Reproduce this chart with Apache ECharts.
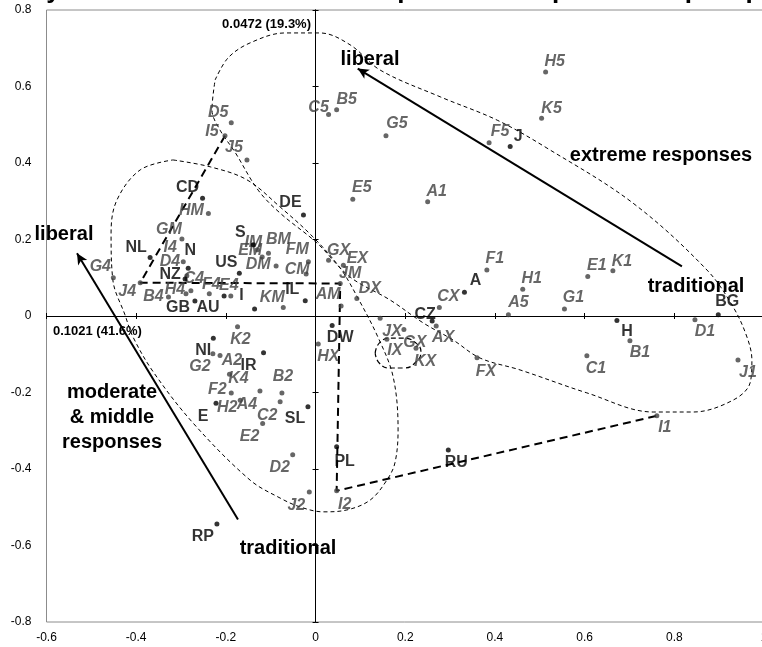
<!DOCTYPE html>
<html><head><meta charset="utf-8">
<script src="https://cdn.jsdelivr.net/npm/echarts@6/dist/echarts.min.js"></script>
<style>html,body{margin:0;padding:0;background:#fff}#c{width:762px;height:647px}</style>
</head><body><div id="c"></div>
<script>
// ---- data ----
const countryNames = ['CD','NL','N','NZ','GB','AU','I','US','S','DE','IL','DW','CZ','A','J','H','BG','NI','IR','E','SL','PL','RU','RP'];
const countryX = [-0.252,-0.369,-0.284,-0.291,-0.269,-0.204,-0.136,-0.170,-0.139,-0.027,-0.023,0.037,0.260,0.332,0.434,0.672,0.898,-0.228,-0.116,-0.222,-0.017,0.047,0.296,-0.220];
const countryY = [0.308,0.153,0.125,0.097,0.039,0.052,0.018,0.112,0.186,0.264,0.040,-0.025,-0.013,0.062,0.443,-0.012,0.003,-0.058,-0.096,-0.228,-0.237,-0.342,-0.350,-0.544];

const itemNames = ['D5','I5','J5','C5','B5','G5','E5','H5','K5','F5','A1','F1','H1','A5','G1','E1','K1','D1','B1','C1','J1','I1','CX','AX','FX','JX','IX','GX','KX','GX','EX','JM','DX','AM','HX','KM','FM','CM','DM','BM','EM','IM','HM','GM','I4','D4','C4','H4','B4','J4','G4','F4','E4','K2','G2','A2','K4','F2','H2','A4','B2','C2','E2','D2','J2','I2'];
const itemX = [-0.188,-0.202,-0.153,0.029,0.047,0.157,0.083,0.513,0.504,0.387,0.250,0.382,0.462,0.430,0.555,0.607,0.663,0.846,0.701,0.605,0.942,0.761,0.276,0.269,0.360,0.144,0.159,0.197,0.224,0.029,0.062,0.055,0.092,0.057,0.006,-0.072,-0.016,-0.021,-0.088,-0.105,-0.119,-0.130,-0.239,-0.298,-0.295,-0.287,-0.278,-0.289,-0.328,-0.391,-0.451,-0.237,-0.189,-0.174,-0.229,-0.213,-0.192,-0.188,-0.168,-0.124,-0.075,-0.079,-0.118,-0.051,-0.014,0.047];
const itemY = [0.505,0.471,0.408,0.527,0.539,0.471,0.305,0.638,0.517,0.453,0.299,0.120,0.070,0.003,0.018,0.103,0.118,-0.010,-0.065,-0.104,-0.115,-0.261,0.022,-0.026,-0.109,-0.006,-0.061,-0.035,-0.084,0.146,0.133,0.085,0.046,0.026,-0.073,0.022,0.142,0.110,0.131,0.164,0.154,0.173,0.268,0.201,0.142,0.105,0.066,0.058,0.050,0.087,0.100,0.058,0.052,-0.028,-0.099,-0.103,-0.152,-0.201,-0.220,-0.196,-0.201,-0.224,-0.281,-0.363,-0.460,-0.457];

// label placement (pixels, relative to the point)
const countryLabelDx = [-15,-14,2,-15,-17,-16,-13,-13,-13,-13,-13,8,-7,11,8,10,9,-10,-15,-13,-13,8,8,-14];
const countryLabelDy = [-11,-10,-18,-4,7,11,-14,-11,-12,-12,-11,12,-6,-12,-10,11,-13,12,13,13,12,15,13,13];
const itemLabelDx = [-13,-13,-13,-10,10,11,9,9,10,11,9,8,9,10,9,9,9,10,10,9,10,8,9,7,9,12,8,11,9,10,14,10,13,-13,10,-11,-11,-9,-18,10,-12,-4,-17,-13,-13,-17,3,-11,-15,-13,-13,2,-2,3,-13,12,9,-14,-13,-13,1,-13,-13,-13,-13,8];
const itemLabelDy = [-10,-4,-12,-7,-10,-12,-12,-10,-10,-11,-10,-12,-11,-12,-12,-11,-9,12,12,13,13,12,-11,12,14,13,11,13,13,-10,-7,-10,-10,-11,13,-10,-12,-4,-1,-14,-7,-7,-3,-10,-14,-14,-12,-4,0,9,-11,-9,-11,13,13,5,4,-3,7,14,-16,14,13,13,14,14];

// trajectory drawn with the thick dashed line
const trajectoryNames = ['I5','J4','JM','I2','I1'];

// enclosing curves
const extremeHull = [[-0.224,0.617],[-0.195,0.675],[-0.146,0.714],[-0.068,0.740],[0.010,0.740],[0.077,0.709],[0.144,0.643],[0.278,0.573],[0.405,0.512],[0.516,0.439],[0.708,0.295],[0.873,0.120],[0.931,0.024],[0.962,-0.055],[0.973,-0.115],[0.969,-0.175],[0.931,-0.220],[0.842,-0.251],[0.753,-0.251],[0.605,-0.201],[0.456,-0.141],[0.367,-0.110],[0.307,-0.063],[0.240,-0.018],[0.166,0.042],[0.077,0.102],[0.003,0.191],[-0.079,0.269],[-0.128,0.329],[-0.180,0.429],[-0.213,0.486],[-0.231,0.539],[-0.224,0.617]];
const moderateHull = [[-0.318,0.408],[-0.235,0.390],[-0.153,0.356],[-0.079,0.285],[-0.006,0.207],[0.055,0.125],[0.093,0.050],[0.139,-0.055],[0.173,-0.159],[0.184,-0.298],[0.177,-0.384],[0.159,-0.429],[0.122,-0.481],[0.070,-0.507],[0.017,-0.512],[-0.035,-0.499],[-0.079,-0.476],[-0.146,-0.429],[-0.273,-0.280],[-0.362,-0.146],[-0.407,-0.055],[-0.425,0.003],[-0.452,0.094],[-0.456,0.217],[-0.443,0.303],[-0.391,0.382],[-0.318,0.408]];
const dkLoop = [[0.133,-0.097],[0.142,-0.071],[0.166,-0.058],[0.197,-0.058],[0.224,-0.071],[0.235,-0.094],[0.224,-0.120],[0.197,-0.136],[0.166,-0.136],[0.142,-0.123],[0.133,-0.097]];

// arrows (tail -> head)
const arrowExtreme = [[0.817,0.130],[0.094,0.647]];
const arrowModerate = [[-0.173,-0.532],[-0.532,0.164]];

const xMin=-0.6, xMax=1.0, xStep=0.2;
const yMin=-0.8, yMax=0.8, yStep=0.2;

// ---- chart ----
const FONT = '"Liberation Sans", Arial, sans-serif';
const chart = echarts.init(document.getElementById('c'), null, {renderer:'canvas'});

const countryData = countryNames.map((n,i)=>({name:n, value:[countryX[i],countryY[i]], label:{offset:[countryLabelDx[i],countryLabelDy[i]]}}));
const itemData = itemNames.map((n,i)=>({name:n, value:[itemX[i],itemY[i]], label:{offset:[itemLabelDx[i],itemLabelDy[i]]}}));
const traj = trajectoryNames.map(n=>{const i=itemNames.indexOf(n); return [itemX[i],itemY[i]];});

function valAxis(min,max,step,extra){
  return Object.assign({type:'value',min:min,max:max,interval:step,splitLine:{show:false},
    axisTick:{show:false},axisLine:{show:false},axisLabel:{show:false}},extra);
}
const zeroLine = {show:true,onZero:true,onZeroAxisIndex:0,lineStyle:{color:'#000',width:1}};

const option = {
  animation:false,
  backgroundColor:'#fff',
  grid:{left:46.5,right:-2,top:10,bottom:25,show:true,borderColor:'#8c8c8c',borderWidth:1,containLabel:false,outerBoundsMode:'none'},
  xAxis:[
    valAxis(xMin,xMax,xStep,{position:'bottom',axisLabel:{show:true,color:'#000',fontSize:12,fontFamily:FONT,margin:10}}),
    valAxis(xMin,xMax,xStep,{position:'bottom',axisLine:zeroLine,axisTick:{show:true,inside:false,length:3,lineStyle:{color:'#000'}}}),
    valAxis(xMin,xMax,xStep,{position:'bottom',axisLine:zeroLine,axisTick:{show:true,inside:true,length:3,lineStyle:{color:'#000'}}})
  ],
  yAxis:[
    valAxis(yMin,yMax,yStep,{position:'left',axisLabel:{show:true,color:'#000',fontSize:12,fontFamily:FONT,margin:15}}),
    valAxis(yMin,yMax,yStep,{position:'left',axisLine:zeroLine,axisTick:{show:true,inside:false,length:3,lineStyle:{color:'#000'}}}),
    valAxis(yMin,yMax,yStep,{position:'left',axisLine:zeroLine,axisTick:{show:true,inside:true,length:3,lineStyle:{color:'#000'}}})
  ],
  series:[
    {type:'line',data:extremeHull,smooth:0.35,symbol:'none',silent:true,z:1,
      lineStyle:{color:'#000',width:1,type:[4,3]}},
    {type:'line',data:moderateHull,smooth:0.35,symbol:'none',silent:true,z:1,
      lineStyle:{color:'#000',width:1,type:[4,3]}},
    {type:'line',data:dkLoop,smooth:0.5,symbol:'none',silent:true,z:1,
      lineStyle:{color:'#000',width:1.2,type:[5,3]}},
    {type:'line',data:traj,symbol:'none',silent:true,z:1,
      lineStyle:{color:'#000',width:2,type:[8,5]}},
    {type:'line',data:[],symbol:'none',silent:true,z:2,
      markLine:{silent:true,symbol:['none','arrow'],symbolSize:[8,11],label:{show:false},
        lineStyle:{color:'#000',width:2,type:'solid'},
        data:[[{coord:arrowExtreme[0]},{coord:arrowExtreme[1]}],[{coord:arrowModerate[0]},{coord:arrowModerate[1]}]]}},
    {type:'scatter',data:itemData,symbol:'circle',symbolSize:5,z:3,
      itemStyle:{color:'#404040'},
      label:{show:true,position:'inside',formatter:'{b}',color:'#404040',fontFamily:FONT,fontSize:16,fontWeight:'bold',fontStyle:'italic',align:'center',verticalAlign:'middle'}},
    {type:'scatter',data:countryData,symbol:'circle',symbolSize:5,z:4,
      itemStyle:{color:'#000'},
      label:{show:true,position:'inside',formatter:'{b}',color:'#000',fontFamily:FONT,fontSize:16,fontWeight:'bold',align:'center',verticalAlign:'middle'}}
  ],
  graphic:[
    {type:'text',z:10,style:{text:'Survey item and nation scores on plots on the profiles of past polls',x:-26,y:-9,fill:'#000',font:'bold 26px '+FONT,align:'left',verticalAlign:'middle'}},
    {type:'text',z:10,style:{text:'0.0472 (19.3%)',x:311,y:24,fill:'#000',font:'bold 13px '+FONT,align:'right',verticalAlign:'middle'}},
    {type:'text',z:10,style:{text:'0.1021 (41.6%)',x:53,y:331,fill:'#000',font:'bold 13px '+FONT,align:'left',verticalAlign:'middle'}},
    {type:'text',z:10,style:{text:'liberal',x:370,y:59,fill:'#000',font:'bold 20px '+FONT,align:'center',verticalAlign:'middle'}},
    {type:'text',z:10,style:{text:'extreme responses',x:661,y:155,fill:'#000',font:'bold 20px '+FONT,align:'center',verticalAlign:'middle'}},
    {type:'text',z:10,style:{text:'traditional',x:696,y:286,fill:'#000',font:'bold 20px '+FONT,align:'center',verticalAlign:'middle'}},
    {type:'text',z:10,style:{text:'liberal',x:64,y:234,fill:'#000',font:'bold 20px '+FONT,align:'center',verticalAlign:'middle'}},
    {type:'text',z:10,style:{text:'moderate\n& middle\nresponses',x:112,y:417,fill:'#000',font:'bold 20px '+FONT,align:'center',verticalAlign:'middle',lineHeight:25}},
    {type:'text',z:10,style:{text:'traditional',x:288,y:548,fill:'#000',font:'bold 20px '+FONT,align:'center',verticalAlign:'middle'}}
  ]
};
chart.setOption(option);
</script></body></html>
